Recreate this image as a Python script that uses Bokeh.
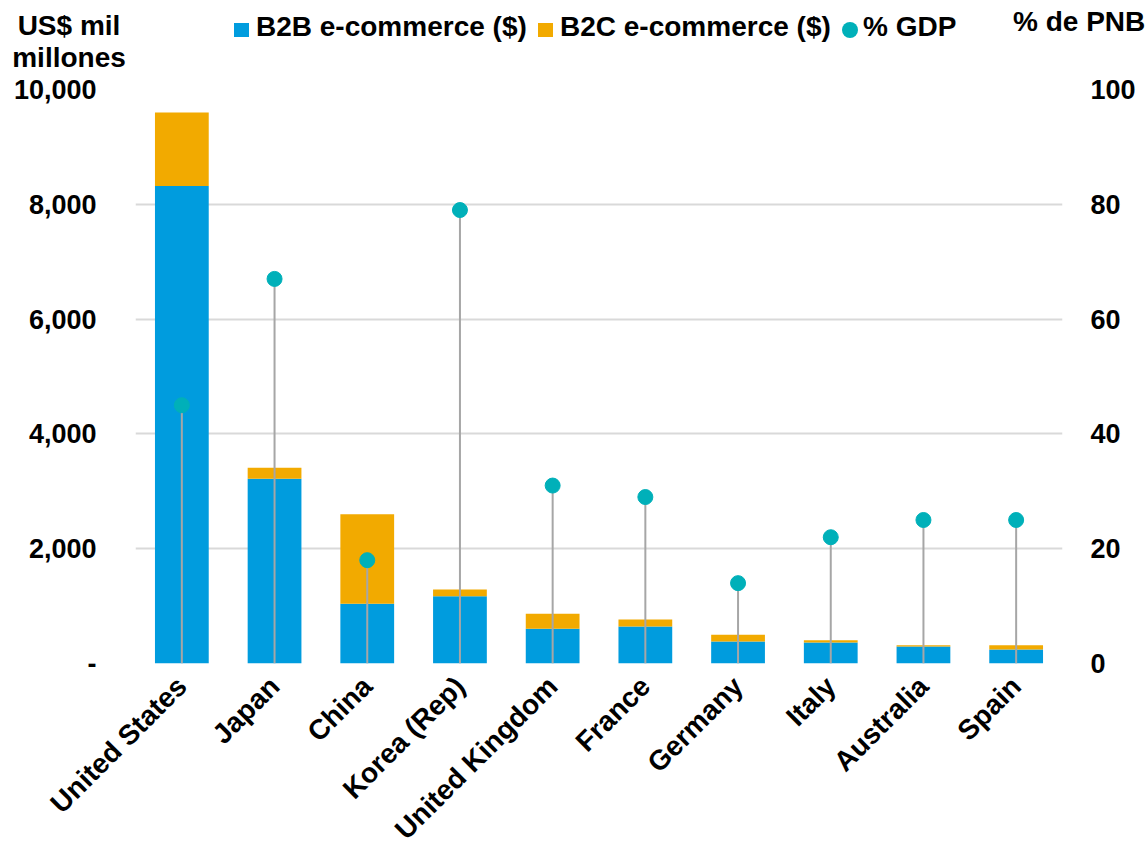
from bokeh.plotting import figure
from bokeh.layouts import column
from bokeh.models import (ColumnDataSource, FactorRange, Range1d, LinearAxis, FixedTicker, Div)
from bokeh.embed import file_html
from bokeh.resources import INLINE
import math

countries = ["United States", "Japan", "China", "Korea (Rep)", "United Kingdom",
             "France", "Germany", "Italy", "Australia", "Spain"]
b2b = [8320, 3220, 1040, 1170, 605, 645, 385, 365, 296, 245]
b2c = [1280, 190, 1560, 120, 260, 120, 115, 40, 23, 75]
pct_gdp = [45, 67, 18, 79, 31, 29, 14, 22, 25, 25]

series_names = ["B2B e-commerce ($)", "B2C e-commerce ($)", "% GDP"]
left_title = ["US$ mil", "millones"]
right_title = "% de PNB"

left_ticks = [0, 2000, 4000, 6000, 8000, 10000]
left_tick_labels = ["-", "2,000", "4,000", "6,000", "8,000", "10,000"]
right_ticks = [0, 20, 40, 60, 80, 100]

BLUE = "#009CDE"
ORANGE = "#F2AA00"
TEAL = "#00B0B9"
GREY_LINE = "#A6A6A6"
GRID = "#D9D9D9"
FONT = "Liberation Sans"
FS = "27px"

HEADER_H = 69

# ---------------- header: legend + axis titles ----------------
txt_css = ("position:absolute;font-family:'Liberation Sans',Arial,sans-serif;font-weight:bold;"
           "font-size:28px;line-height:28px;color:#000;white-space:nowrap;")
sw_css = "position:absolute;"
header_html = (
    f'<div style="position:relative;width:1147px;height:{HEADER_H}px;overflow:visible;">'
    f'<div style="{txt_css}left:0px;width:138px;text-align:center;top:12px;">{left_title[0]}</div>'
    f'<div style="{txt_css}left:0px;width:138px;text-align:center;top:44px;">{left_title[1]}</div>'
    f'<div style="{sw_css}left:234px;top:23px;width:15px;height:14px;background:{BLUE};"></div>'
    f'<div style="{txt_css}left:256px;top:13px;">{series_names[0]}</div>'
    f'<div style="{sw_css}left:538px;top:23px;width:15px;height:14px;background:{ORANGE};"></div>'
    f'<div style="{txt_css}left:560px;top:13px;">{series_names[1]}</div>'
    f'<div style="{sw_css}left:842px;top:22px;width:16px;height:16px;border-radius:50%;background:{TEAL};"></div>'
    f'<div style="{txt_css}left:863px;top:13px;">{series_names[2]}</div>'
    f'<div style="{txt_css}left:1013px;top:8px;">{right_title}</div>'
    '</div>'
)
header = Div(text=header_html, width=1147, height=HEADER_H, margin=0)

# ---------------- main chart ----------------
source = ColumnDataSource(dict(country=countries, b2b=b2b, b2c=b2c, pct=pct_gdp,
                               zero=[0] * len(countries)))

p = figure(frame_width=927, frame_height=574,
           x_range=FactorRange(*countries, range_padding=0),
           y_range=Range1d(0, 10000), output_backend="svg", toolbar_location=None,
           min_border_left=135, min_border_right=85, min_border_top=89 - HEADER_H,
           min_border_bottom=186, margin=0)
p.extra_y_ranges = {"pct": Range1d(0, 100)}
p.outline_line_color = None
p.background_fill_color = "white"
p.border_fill_color = "white"

p.vbar_stack(["b2b", "b2c"], x="country", width=0.58, color=[BLUE, ORANGE],
             source=source, line_color=None, legend_label=series_names[:2])
p.segment(x0="country", y0="zero", x1="country", y1="pct", y_range_name="pct",
          line_color=GREY_LINE, line_width=2, source=source)
p.scatter(x="country", y="pct", y_range_name="pct", size=15, color=TEAL, source=source)
p.legend.visible = False

p.xaxis.major_label_orientation = math.pi / 4
p.xaxis.axis_line_color = None
p.xaxis.major_tick_line_color = None
p.xaxis.minor_tick_line_color = None
p.xaxis.major_label_text_font = FONT
p.xaxis.major_label_text_font_style = "bold"
p.xaxis.major_label_text_font_size = "28px"
p.xaxis.major_label_text_color = "black"
p.xaxis.major_label_standoff = 12

ya = p.yaxis[0]
ya.ticker = FixedTicker(ticks=left_ticks)
ya.major_label_overrides = {t: l for t, l in zip(left_ticks, left_tick_labels)}
ya.axis_line_color = None
ya.major_tick_line_color = None
ya.minor_tick_line_color = None
ya.major_label_text_font = FONT
ya.major_label_text_font_style = "bold"
ya.major_label_text_font_size = FS
ya.major_label_text_color = "black"
ya.major_label_standoff = 33

ra = LinearAxis(y_range_name="pct", ticker=FixedTicker(ticks=right_ticks))
ra.axis_line_color = None
ra.major_tick_line_color = None
ra.minor_tick_line_color = None
ra.major_label_text_font = FONT
ra.major_label_text_font_style = "bold"
ra.major_label_text_font_size = FS
ra.major_label_text_color = "black"
ra.major_label_standoff = 22
p.add_layout(ra, "right")

p.xgrid.grid_line_color = None
p.ygrid.grid_line_color = GRID
p.ygrid.grid_line_width = 2

layout = column(header, p, spacing=0)
open("out.html", "w").write(file_html(layout, INLINE))
